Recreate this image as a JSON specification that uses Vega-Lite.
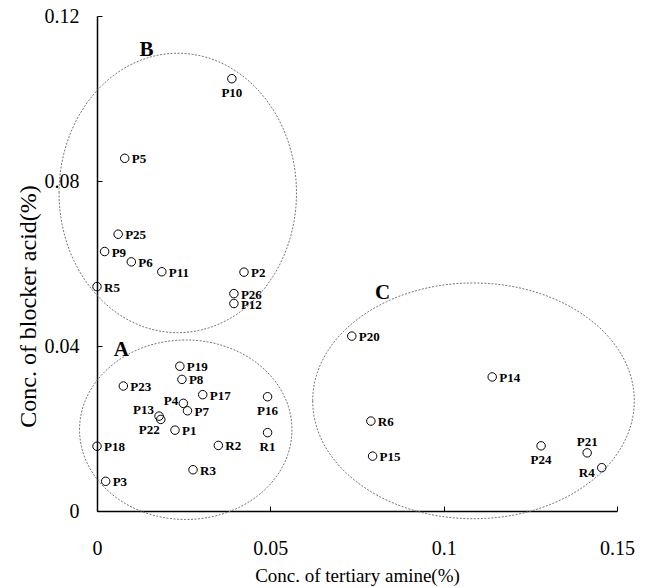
{
  "$schema": "https://vega.github.io/schema/vega-lite/v6.json",
  "autosize": "none",
  "padding": {"left": 97, "top": 16, "right": 31, "bottom": 77},
  "width": 520,
  "height": 495,
  "config": {
    "font": "Liberation Serif",
    "view": {"stroke": null},
    "axis": {"grid": false, "domainColor": "black", "tickColor": "black", "labelColor": "black", "titleColor": "black", "labelFont": "Liberation Serif", "titleFont": "Liberation Serif", "titleFontWeight": "normal", "labelFlush": false, "labelOverlap": false, "domainWidth": 1.5, "tickWidth": 1}
  },
  "datasets": {
    "pts": [
      {"name": "P10", "x": 0.0389, "y": 0.1048},
      {"name": "P5", "x": 0.0080, "y": 0.0855},
      {"name": "P25", "x": 0.0061, "y": 0.0671},
      {"name": "P9", "x": 0.0022, "y": 0.0629},
      {"name": "P6", "x": 0.0099, "y": 0.0604},
      {"name": "P11", "x": 0.0187, "y": 0.0580},
      {"name": "P2", "x": 0.0424, "y": 0.0579},
      {"name": "R5", "x": 0.0000, "y": 0.0544},
      {"name": "P26", "x": 0.0395, "y": 0.0527},
      {"name": "P12", "x": 0.0395, "y": 0.0503},
      {"name": "P19", "x": 0.0239, "y": 0.0351},
      {"name": "P8", "x": 0.0245, "y": 0.0319},
      {"name": "P23", "x": 0.0076, "y": 0.0303},
      {"name": "P17", "x": 0.0305, "y": 0.0282},
      {"name": "P16", "x": 0.0492, "y": 0.0277},
      {"name": "P4", "x": 0.0249, "y": 0.0261},
      {"name": "P7", "x": 0.0261, "y": 0.0243},
      {"name": "P13", "x": 0.0179, "y": 0.0230},
      {"name": "P22", "x": 0.0184, "y": 0.0222},
      {"name": "P1", "x": 0.0225, "y": 0.0196},
      {"name": "R1", "x": 0.0492, "y": 0.0190},
      {"name": "R2", "x": 0.0350, "y": 0.0159},
      {"name": "P18", "x": 0.0000, "y": 0.0157},
      {"name": "R3", "x": 0.0277, "y": 0.0100},
      {"name": "P3", "x": 0.0025, "y": 0.0072},
      {"name": "P20", "x": 0.0735, "y": 0.0424},
      {"name": "P14", "x": 0.1140, "y": 0.0325},
      {"name": "R6", "x": 0.0790, "y": 0.0218},
      {"name": "P15", "x": 0.0795, "y": 0.0133},
      {"name": "P24", "x": 0.1281, "y": 0.0158},
      {"name": "P21", "x": 0.1414, "y": 0.0141},
      {"name": "R4", "x": 0.1456, "y": 0.0105}
    ],
    "ellipses": [
      {"group": "A", "x": 0.0256, "y": 0.0197},
      {"group": "B", "x": 0.0233, "y": 0.0771},
      {"group": "C", "x": 0.1086, "y": 0.0267}
    ],
    "grouplabels": [
      {"group": "A", "x": 0.0070, "y": 0.0390},
      {"group": "B", "x": 0.0143, "y": 0.1117},
      {"group": "C", "x": 0.0824, "y": 0.0528}
    ]
  },
  "encoding": {
    "x": {"field": "x", "type": "quantitative",
      "scale": {"domain": [0, 0.15], "nice": false, "zero": false},
      "axis": {"title": "Conc. of tertiary amine(%)", "values": [0, 0.05, 0.1, 0.15], "format": ".2~f", "tickSize": -5, "labelPadding": 32, "labelFontSize": 20, "titleFontSize": 19, "titlePadding": 8}},
    "y": {"field": "y", "type": "quantitative",
      "scale": {"domain": [0, 0.12], "nice": false, "zero": false},
      "axis": {"title": "Conc. of blocker acid(%)", "values": [0, 0.04, 0.08, 0.12], "format": ".2~f", "tickSize": -5, "labelPadding": 23, "labelFontSize": 20, "titleFontSize": 24, "titleX": -69, "titleY": 290, "titleBaseline": "middle", "titleAngle": -90}}
  },
  "layer": [
    {"data": {"name": "ellipses"}, "transform": [{"filter": "datum.group === 'A'"}],
     "mark": {"type": "point", "shape": "M-1,0A1,0.845,0,1,1,1,0A1,0.845,0,1,1,-1,0Z", "size": 45114, "filled": false, "stroke": "#777", "strokeWidth": 1, "strokeDash": [2, 1.5], "opacity": 1}},
    {"data": {"name": "ellipses"}, "transform": [{"filter": "datum.group === 'B'"}],
     "mark": {"type": "point", "shape": "M-1,0A1,1.177,0,1,1,1,0A1,1.177,0,1,1,-1,0Z", "size": 56359, "filled": false, "stroke": "#777", "strokeWidth": 1, "strokeDash": [2, 1.5], "opacity": 1}},
    {"data": {"name": "ellipses"}, "transform": [{"filter": "datum.group === 'C'"}],
     "mark": {"type": "point", "shape": "M-1,0A1,0.733,0,1,1,1,0A1,0.733,0,1,1,-1,0Z", "size": 103427, "filled": false, "stroke": "#777", "strokeWidth": 1, "strokeDash": [2, 1.5], "opacity": 1}},
    {"data": {"name": "grouplabels"},
     "mark": {"type": "text", "font": "Liberation Serif", "fontWeight": "bold", "fontSize": 21, "align": "center", "baseline": "middle", "color": "black"},
     "encoding": {"text": {"field": "group"}}},
    {"data": {"name": "pts"},
     "mark": {"type": "point", "shape": "circle", "size": 72, "filled": false, "stroke": "black", "strokeWidth": 1, "opacity": 1}},
    {"data": {"name": "pts"}, "transform": [{"filter": {"not": {"field": "name", "oneOf": ["P10", "P16", "R1", "P24", "P21", "P4", "P13", "P22", "R4"]}}}],
     "mark": {"type": "text", "fontWeight": "bold", "fontSize": 13, "align": "left", "baseline": "middle", "dx": 7, "dy": 1, "color": "black"},
     "encoding": {"text": {"field": "name"}}},
    {"data": {"name": "pts"}, "transform": [{"filter": {"field": "name", "oneOf": ["P10", "P16", "R1", "P24"]}}],
     "mark": {"type": "text", "fontWeight": "bold", "fontSize": 13, "align": "center", "baseline": "middle", "dy": 14, "color": "black"},
     "encoding": {"text": {"field": "name"}}},
    {"data": {"name": "pts"}, "transform": [{"filter": {"field": "name", "equal": "P21"}}],
     "mark": {"type": "text", "fontWeight": "bold", "fontSize": 13, "align": "center", "baseline": "middle", "dy": -11, "color": "black"},
     "encoding": {"text": {"field": "name"}}},
    {"data": {"name": "pts"}, "transform": [{"filter": {"field": "name", "equal": "P4"}}],
     "mark": {"type": "text", "fontWeight": "bold", "fontSize": 13, "align": "right", "baseline": "middle", "dx": -5, "dy": -2, "color": "black"},
     "encoding": {"text": {"field": "name"}}},
    {"data": {"name": "pts"}, "transform": [{"filter": {"field": "name", "equal": "P13"}}],
     "mark": {"type": "text", "fontWeight": "bold", "fontSize": 13, "align": "right", "baseline": "middle", "dx": -5, "dy": -6, "color": "black"},
     "encoding": {"text": {"field": "name"}}},
    {"data": {"name": "pts"}, "transform": [{"filter": {"field": "name", "equal": "P22"}}],
     "mark": {"type": "text", "fontWeight": "bold", "fontSize": 13, "align": "right", "baseline": "middle", "dx": -1, "dy": 11, "color": "black"},
     "encoding": {"text": {"field": "name"}}},
    {"data": {"name": "pts"}, "transform": [{"filter": {"field": "name", "equal": "R4"}}],
     "mark": {"type": "text", "fontWeight": "bold", "fontSize": 13, "align": "right", "baseline": "middle", "dx": -7, "dy": 5, "color": "black"},
     "encoding": {"text": {"field": "name"}}}
  ]
}
